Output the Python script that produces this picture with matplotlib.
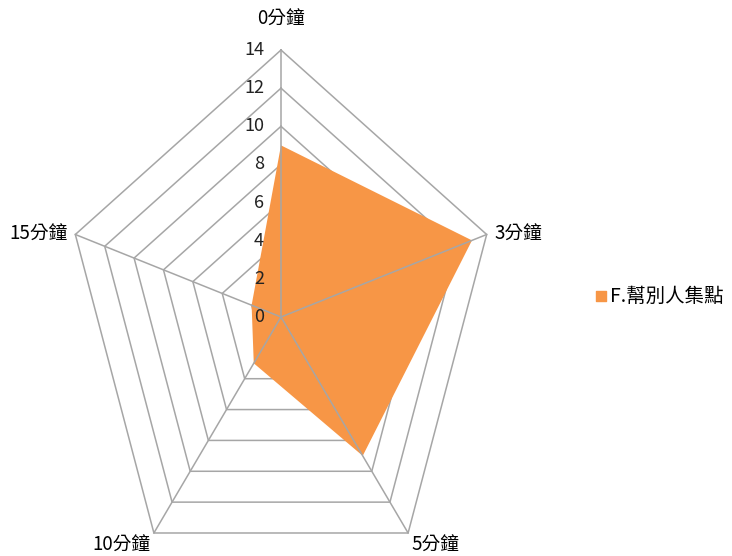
import matplotlib
matplotlib.use('Agg')
import matplotlib.pyplot as plt
import numpy as np

plt.rcParams['font.family'] = ['Noto Sans CJK TC', 'DejaVu Sans']

categories = ['0分鐘', '3分鐘', '5分鐘', '10分鐘', '15分鐘']
values = [9, 13, 9, 3, 2]
series_name = 'F.幫別人集點'
ticks = [0, 2, 4, 6, 8, 10, 12, 14]
rmax = 14

orange = '#F79646'
grid_c = '#A6A6A6'

W, H = 732, 556
cx, cy = 281, 317          # centre in pixels
py = 19.07                 # pixels per unit vertically
px = py * 0.81             # horizontally squeezed like the original

fig = plt.figure(figsize=(W / 100, H / 100), dpi=100)
ax = fig.add_axes([0, 0, 1, 1])
ax.set_xlim(-cx / px, (W - cx) / px)
ax.set_ylim(-(H - cy) / py, cy / py)
ax.axis('off')

n = len(categories)
ang = np.pi / 2 - np.arange(n) * 2 * np.pi / n
ux, uy = np.cos(ang), np.sin(ang)

# data polygon (covers the rings, spokes stay on top)
vals = np.array(values, float)
ax.fill(vals * ux, vals * uy, color=orange, lw=0, zorder=2)

for t in ticks[1:]:
    xs = np.append(t * ux, t * ux[0])
    ys = np.append(t * uy, t * uy[0])
    ax.plot(xs, ys, color=grid_c, lw=1.1, zorder=1)
for i in range(n):
    ax.plot([0, rmax * ux[i]], [0, rmax * uy[i]], color=grid_c, lw=1.1, zorder=3)

# value labels along the top spoke
for t in ticks:
    ax.text(-17 / px, t, str(t), ha='right', va='center', fontsize=13,
            color='#222222')

# category labels
fs = 13.5
ax.text(0, rmax + 1.6, categories[0], ha='center', va='center', fontsize=fs)
ax.text(rmax * ux[1] + 8 / px, rmax * uy[1], categories[1], ha='left', va='center', fontsize=fs)
ax.text(rmax * ux[2] + 3 / px, rmax * uy[2] - 0.65, categories[2], ha='left', va='center', fontsize=fs)
ax.text(rmax * ux[3] - 3 / px, rmax * uy[3] - 0.65, categories[3], ha='right', va='center', fontsize=fs)
ax.text(rmax * ux[4] - 8 / px, rmax * uy[4], categories[4], ha='right', va='center', fontsize=fs)

# legend
lx = (601 - cx) / px
ly = (cy - 296) / py
ax.scatter([lx], [ly], marker='s', s=50, color=orange)
ax.text(lx + 9 / px, ly, series_name, ha='left', va='center', fontsize=14)

fig.savefig('out.png', dpi=100, facecolor='white')
